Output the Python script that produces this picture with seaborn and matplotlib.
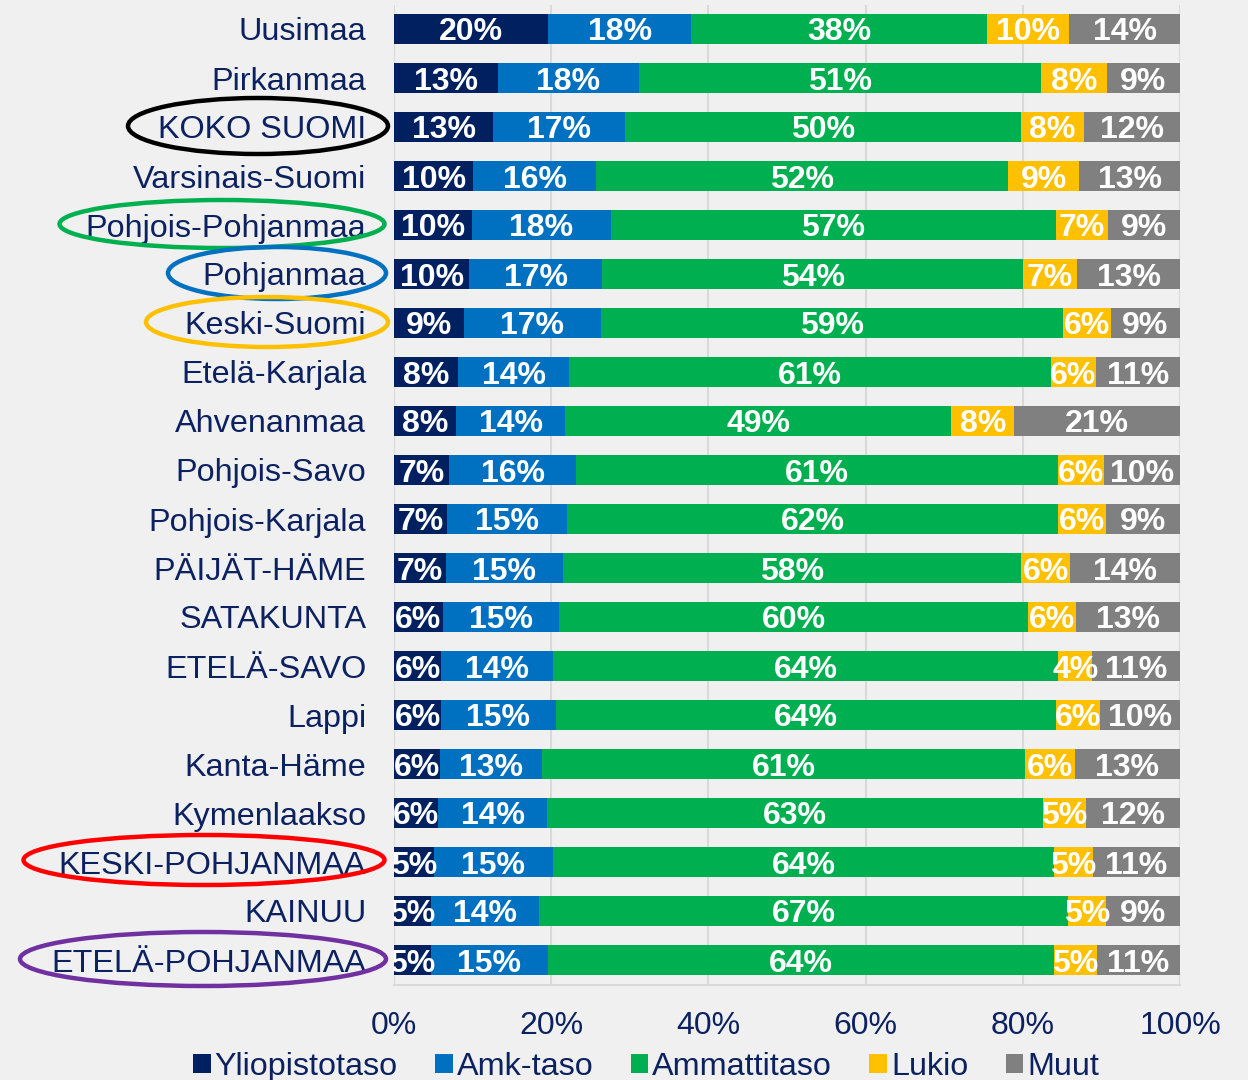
import matplotlib
matplotlib.use("Agg")
import matplotlib.pyplot as plt
from matplotlib.patches import Ellipse, Patch
import seaborn as sns
import numpy as np
import pandas as pd

regions = ["Uusimaa", "Pirkanmaa", "KOKO SUOMI", "Varsinais-Suomi", "Pohjois-Pohjanmaa",
           "Pohjanmaa", "Keski-Suomi", "Etelä-Karjala", "Ahvenanmaa", "Pohjois-Savo",
           "Pohjois-Karjala", "PÄIJÄT-HÄME", "SATAKUNTA", "ETELÄ-SAVO", "Lappi",
           "Kanta-Häme", "Kymenlaakso", "KESKI-POHJANMAA", "KAINUU", "ETELÄ-POHJANMAA"]

series_names = ["Yliopistotaso", "Amk-taso", "Ammattitaso", "Lukio", "Muut"]

yliopisto = [19.6, 13.2, 12.6, 10.1, 9.9, 9.6, 8.9, 8.1, 7.9, 7.0,
             6.7, 6.6, 6.2, 6.0, 6.0, 5.9, 5.6, 5.1, 4.7, 4.7]
amk = [18.2, 18.0, 16.7, 15.6, 17.7, 16.9, 17.4, 14.2, 13.9, 16.2,
       15.3, 14.9, 14.8, 14.2, 14.6, 12.9, 13.9, 15.1, 13.7, 14.8]
ammatti = [37.6, 51.1, 50.4, 52.4, 56.6, 53.6, 58.8, 61.2, 49.1, 61.3,
           62.4, 58.4, 59.7, 64.0, 63.7, 61.4, 63.1, 63.8, 67.4, 64.3]
lukio = [10.4, 8.4, 8.0, 9.0, 6.6, 6.9, 6.1, 5.7, 8.0, 5.9,
         6.1, 6.2, 6.1, 4.4, 5.6, 6.3, 5.4, 4.9, 4.8, 5.4]
muut = [14.1, 9.3, 12.2, 12.8, 9.2, 13.1, 8.8, 10.7, 21.1, 9.7,
        9.4, 14.0, 13.2, 11.1, 10.2, 13.4, 12.0, 11.1, 9.4, 10.6]

colors = ["#002060", "#0070C0", "#00B050", "#FFC000", "#808080"]
text_color = "#0C2160"
bg = "#F0F0F0"

circled = {"KOKO SUOMI": "#000000", "Pohjois-Pohjanmaa": "#00B050", "Pohjanmaa": "#0070C0",
           "Keski-Suomi": "#FFC000", "KESKI-POHJANMAA": "#FF0000", "ETELÄ-POHJANMAA": "#7030A0"}

sns.set_theme(style="white")
plt.rcParams["font.family"] = ["Liberation Sans", "DejaVu Sans"]

vals = np.array([yliopisto, amk, ammatti, lukio, muut])  # series x regions
shares = vals / vals.sum(axis=0) * 100
cum = np.cumsum(shares, axis=0)

df = pd.DataFrame({"region": regions})
for i, name in enumerate(series_names):
    df[name + "_cum"] = cum[i]

W, H = 1248, 1080
fig = plt.figure(figsize=(W / 100, H / 100), dpi=100, facecolor=bg)
ax = fig.add_axes([394 / W, 1 - 984.5 / H, (1180 - 394) / W, (984.5 - 4.5) / H])
ax.set_facecolor(bg)

for i in range(len(series_names) - 1, -1, -1):
    sns.barplot(data=df, x=series_names[i] + "_cum", y="region", color=colors[i],
                orient="h", width=0.63, errorbar=None, saturation=1, ax=ax,
                linewidth=0, zorder=2)

# value labels
for i in range(len(series_names)):
    start = cum[i] - shares[i]
    for j in range(len(regions)):
        ax.text(start[j] + shares[i][j] / 2, j, f"{vals[i][j]:.0f}%", ha="center",
                va="center_baseline", color="white", fontsize=23, fontweight="bold",
                clip_on=True, zorder=5)

ax.set_xlim(0, 100)
ax.set_ylim(len(regions) - 0.5, -0.5)
ax.set_xticks(np.arange(0, 101, 20))
ax.set_xticklabels([f"{t}%" for t in range(0, 101, 20)])
ax.xaxis.grid(True, color="#D9D9D9", linewidth=1.5, zorder=0)
ax.set_axisbelow(True)
ax.set_xlabel("")
ax.set_ylabel("")
ax.tick_params(axis="x", length=0, pad=19, labelsize=23, labelcolor=text_color)
ax.tick_params(axis="y", length=0, pad=20, labelsize=23.3, labelcolor=text_color)
for s in ["top", "right", "left"]:
    ax.spines[s].set_visible(False)
ax.spines["bottom"].set_color("#D9D9D9")
ax.spines["bottom"].set_linewidth(1.5)

# ellipses around selected labels (figure pixel coordinates)
ell = {"KOKO SUOMI": (258, 126, 260, 56), "Pohjois-Pohjanmaa": (222, 224, 325, 48),
       "Pohjanmaa": (277, 273, 218, 52), "Keski-Suomi": (267, 322, 242, 50),
       "KESKI-POHJANMAA": (204, 860, 361, 50), "ETELÄ-POHJANMAA": (203, 959, 366, 54)}
for name, (cx, cy, w, h) in ell.items():
    e = Ellipse((cx / W, 1 - cy / H), w / W, h / H, transform=fig.transFigure,
                fill=False, edgecolor=circled[name], linewidth=3.2)
    fig.add_artist(e)

handles = [Patch(facecolor=c, edgecolor="none") for c in colors]
fig.legend(handles, series_names, loc="center", bbox_to_anchor=(646 / W, 1 - 1067 / H),
           ncol=5, frameon=False, fontsize=23.3, handlelength=0.55, handleheight=0.55,
           handletextpad=0.12, columnspacing=1.15, labelcolor=text_color, borderaxespad=0)

fig.savefig("out.png", dpi=100, facecolor=bg)
